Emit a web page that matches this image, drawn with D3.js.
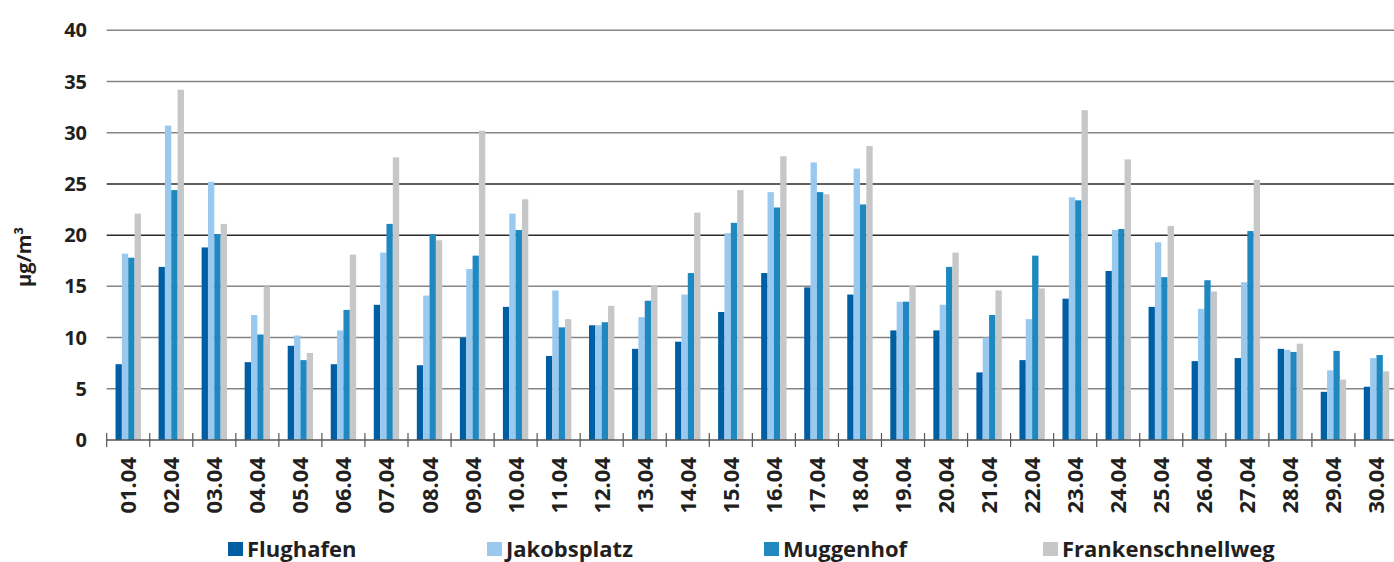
<!DOCTYPE html>
<html>
<head>
<meta charset="utf-8">
<script src="https://cdn.jsdelivr.net/npm/d3@7"></script>
<style>
  body { margin: 0; background: #fff; }
  text { font-family: "Open Sans", "Noto Sans", sans-serif; font-weight: bold; fill: #231f20; }
</style>
</head>
<body>
<div id="chart"></div>
<script>

// data (µg/m³, April)
var days = ["01.04","02.04","03.04","04.04","05.04","06.04","07.04","08.04","09.04","10.04",
            "11.04","12.04","13.04","14.04","15.04","16.04","17.04","18.04","19.04","20.04",
            "21.04","22.04","23.04","24.04","25.04","26.04","27.04","28.04","29.04","30.04"];

var seriesNames = ["Flughafen", "Jakobsplatz", "Muggenhof", "Frankenschnellweg"];

var flughafen = [7.4, 16.9, 18.8, 7.6, 9.2, 7.4, 13.2, 7.3, 10.0, 13.0,
                 8.2, 11.2, 8.9, 9.6, 12.5, 16.3, 14.9, 14.2, 10.7, 10.7,
                 6.6, 7.8, 13.8, 16.5, 13.0, 7.7, 8.0, 8.9, 4.7, 5.2];
var jakobsplatz = [18.2, 30.7, 25.2, 12.2, 10.2, 10.7, 18.3, 14.1, 16.7, 22.1,
                   14.6, 11.2, 12.0, 14.2, 20.2, 24.2, 27.1, 26.5, 13.5, 13.2,
                   10.0, 11.8, 23.7, 20.5, 19.3, 12.8, 15.4, 8.8, 6.8, 8.0];
var muggenhof = [17.8, 24.4, 20.1, 10.3, 7.8, 12.7, 21.1, 20.1, 18.0, 20.5,
                 11.0, 11.5, 13.6, 16.3, 21.2, 22.7, 24.2, 23.0, 13.5, 16.9,
                 12.2, 18.0, 23.4, 20.6, 15.9, 15.6, 20.4, 8.6, 8.7, 8.3];
var frankenschnellweg = [22.1, 34.2, 21.1, 15.0, 8.5, 18.1, 27.6, 19.5, 30.2, 23.5,
                         11.8, 13.1, 15.1, 22.2, 24.4, 27.7, 24.0, 28.7, 15.1, 18.3,
                         14.6, 14.8, 32.2, 27.4, 20.9, 14.5, 25.4, 9.4, 5.9, 6.7];

var seriesValues = [flughafen, jakobsplatz, muggenhof, frankenschnellweg];
var colors = ["#005ea2", "#9ac9ef", "#1f88c0", "#c6c7c9"];
var yTicks = [0, 5, 10, 15, 20, 25, 30, 35, 40];

var width = 1394, height = 562;
var margin = {top: 30.3, left: 106.7, bottom: 122};
var plotRight = 1398;

var svg = d3.select("#chart").append("svg")
    .attr("width", width)
    .attr("height", height);

var x0 = d3.scaleBand()
    .domain(days)
    .range([margin.left, plotRight]);

var x1 = d3.scaleBand()
    .domain(seriesNames)
    .range([x0.bandwidth() * 0.205, x0.bandwidth() * 0.795]);

var y = d3.scaleLinear()
    .domain([0, 40])
    .range([height - margin.bottom, margin.top]);

// gridlines (20 and 25 come out darker in the original)
svg.append("g").selectAll("line")
    .data(yTicks.filter(function(d) { return d > 0; }))
    .enter().append("line")
    .attr("x1", margin.left)
    .attr("x2", plotRight)
    .attr("y1", function(d) { return y(d); })
    .attr("y2", function(d) { return y(d); })
    .attr("stroke", function(d) { return (d == 20 || d == 25) ? "#2b2b2b" : "#858585"; })
    .attr("stroke-width", 1.5);

// bars
var groups = svg.append("g").selectAll("g")
    .data(days)
    .enter().append("g")
    .attr("transform", function(d) { return "translate(" + x0(d) + ",0)"; });

groups.selectAll("rect")
    .data(function(d, i) {
        return seriesNames.map(function(s, k) {
            return {name: s, value: seriesValues[k][i], color: colors[k]};
        });
    })
    .enter().append("rect")
    .attr("x", function(d) { return x1(d.name); })
    .attr("width", x1.bandwidth())
    .attr("y", function(d) { return y(d.value); })
    .attr("height", function(d) { return y(0) - y(d.value); })
    .attr("fill", function(d) { return d.color; });

// x axis line + ticks between categories
var xAxis = svg.append("g");
xAxis.append("line")
    .attr("x1", margin.left)
    .attr("x2", plotRight)
    .attr("y1", y(0))
    .attr("y2", y(0))
    .attr("stroke", "#555")
    .attr("stroke-width", 1.5);

xAxis.selectAll(".tick")
    .data(days)
    .enter().append("line")
    .attr("class", "tick")
    .attr("x1", function(d) { return x0(d); })
    .attr("x2", function(d) { return x0(d); })
    .attr("y1", y(0) - 7)
    .attr("y2", y(0) + 7)
    .attr("stroke", "#555")
    .attr("stroke-width", 1.2);

xAxis.selectAll(".xlabel")
    .data(days)
    .enter().append("text")
    .attr("class", "xlabel")
    .attr("transform", function(d) {
        return "translate(" + (x0(d) + x0.bandwidth() / 2 + 8) + "," + (y(0) + 17) + ") rotate(-90)";
    })
    .attr("text-anchor", "end")
    .style("font-size", "22px")
    .text(function(d) { return d; });

// y labels
svg.append("g").selectAll("text")
    .data(yTicks)
    .enter().append("text")
    .attr("x", 87)
    .attr("y", function(d) { return y(d) + 7; })
    .attr("text-anchor", "end")
    .style("font-size", "20px")
    .text(function(d) { return d; });

svg.append("text")
    .attr("transform", "translate(31,257) rotate(-90)")
    .attr("text-anchor", "middle")
    .style("font-size", "20px")
    .text("µg/m³");

// legend
var legendX = [228, 487, 764, 1043];
var legend = svg.append("g").selectAll("g")
    .data(seriesNames)
    .enter().append("g")
    .attr("transform", function(d, i) { return "translate(" + legendX[i] + ",542)"; });

legend.append("rect")
    .attr("width", 15)
    .attr("height", 14)
    .attr("fill", function(d, i) { return colors[i]; });

legend.append("text")
    .attr("x", 19)
    .attr("y", 15)
    .style("font-size", "22px")
    .text(function(d) { return d; });

</script>
</body>
</html>
